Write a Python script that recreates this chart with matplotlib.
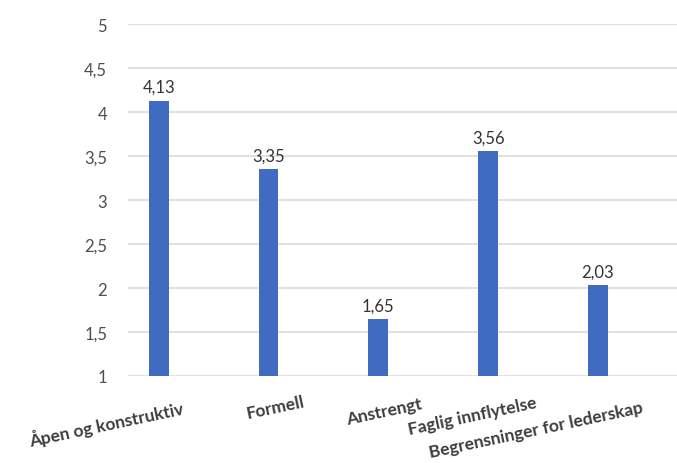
import numpy as np
import matplotlib.pyplot as plt

categories = ["Åpen og konstruktiv", "Formell", "Anstrengt",
              "Faglig innflytelse", "Begrensninger for lederskap"]
values = [4.13, 3.35, 1.65, 3.56, 2.03]
yticks = [1, 1.5, 2, 2.5, 3, 3.5, 4, 4.5, 5]

# rotated category labels are placed by hand (figure pixels, centre of text)
label_pos = [(106, 424), (275, 408), (384, 412), (472, 417), (536, 430)]

plt.rcParams['font.family'] = ['Lato', 'DejaVu Sans']

fig = plt.figure(figsize=(6.77, 4.64), dpi=100)
W, H = 677, 464
ax = fig.add_axes([128 / W, 1 - 377 / H, 1 - 128 / W, (377 - 25) / H])

x = np.arange(len(categories))
ax.bar(x, np.array(values) - 1, bottom=1, width=0.18, color='#3F6BC0', zorder=3)

for xi, v in zip(x, values):
    ax.annotate(f"{v:.2f}".replace(".", ","), (xi, v), xytext=(0, 4),
                textcoords='offset points', ha='center', va='bottom',
                fontsize=12, color='#333333')

ax.set_xlim(-0.28, 4.72)
ax.set_ylim(1, 5)
ax.set_yticks(yticks)
ax.set_yticklabels([f"{t:g}".replace(".", ",") for t in yticks])
ax.tick_params(axis='y', length=0, pad=15, labelsize=12, labelcolor='#4d4d4d')
ax.set_xticks([])
ax.grid(axis='y', color='#dcdcdc', linewidth=1.2, zorder=0)
for s in ax.spines.values():
    s.set_visible(False)

for name, (px, py) in zip(categories, label_pos):
    fig.text(px / W, 1 - py / H, name, rotation=12, ha='center', va='center',
             fontsize=12.5, fontweight='bold', color='#3d3d3d',
             rotation_mode='anchor')

fig.savefig("out.png", dpi=100)
